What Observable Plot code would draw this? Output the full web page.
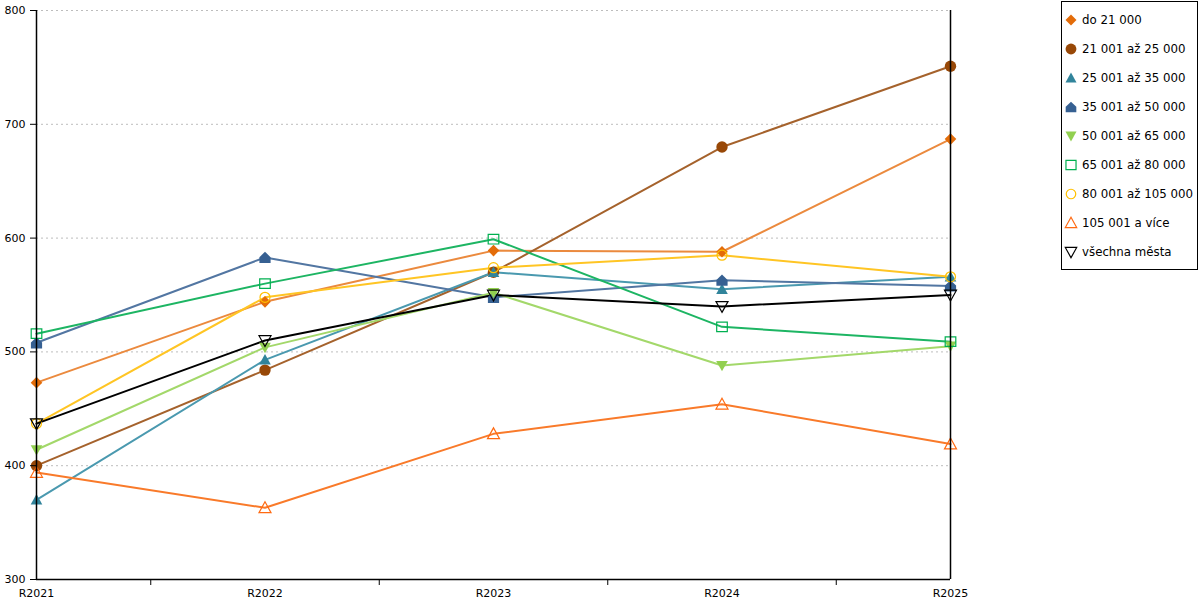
<!DOCTYPE html>
<html>
<head>
<meta charset="utf-8">
<script src="https://cdn.jsdelivr.net/npm/d3@7"></script>
<script src="https://cdn.jsdelivr.net/npm/@observablehq/plot@0.6"></script>
<style>
  html, body { margin: 0; padding: 0; background: #fff; }
  #wrap { position: relative; width: 1200px; height: 600px; font-family: "DejaVu Sans", Verdana, sans-serif; }
  #legend { position: absolute; left: 1061px; top: 1px; width: 135px; height: 267px; border: 1px solid #000; background: #fff; }
  .item { position: absolute; left: 0; height: 16px; display: flex; align-items: center; font-size: 11.8px; color: #000; white-space: nowrap; }
  .item svg { margin-left: 3px; margin-right: 5px; overflow: visible; }
</style>
</head>
<body>
<div id="wrap"><div id="chart"></div><div id="legend"></div></div>
<script>
const years = ["R2021", "R2022", "R2023", "R2024", "R2025"];
const seriesNames = ["do 21 000", "21 001 až 25 000", "25 001 až 35 000", "35 001 až 50 000", "50 001 až 65 000", "65 001 až 80 000", "80 001 až 105 000", "105 001 a více", "všechna města"];
const do21000   = [473, 544, 589, 588, 687];
const s21to25   = [400, 484, 570, 680, 751];
const s25to35   = [370, 493, 570, 555, 566];
const s35to50   = [508, 583, 548, 563, 558];
const s50to65   = [414, 504, 552, 488, 505];
const s65to80   = [516, 560, 599, 522, 509];
const s80to105  = [437, 548, 574, 585, 566];
const s105plus  = [394, 363, 428, 454, 419];
const allCities = [437, 510, 550, 540, 550];
const seriesValues = [do21000, s21to25, s25to35, s35to50, s50to65, s65to80, s80to105, s105plus, allCities];
const yTicks = [300, 400, 500, 600, 700, 800];

const markerColors = ["#E36C09", "#984807", "#31849B", "#366092", "#92D050", "#00B050", "#FFC000", "#FF6A12", "#000000"];
const lineColors   = ["#EB8A3E", "#A5622C", "#4A99AF", "#5276A2", "#A3D86A", "#1DB563", "#FFC524", "#F97A2A", "#000000"];
const filled       = [true, true, true, true, true, false, false, false, false];

// custom symbols: size = PI r^2
const rad = s => Math.sqrt(s / Math.PI);
const diamond = {draw(c, s) { const r = rad(s); c.moveTo(0, -r); c.lineTo(r, 0); c.lineTo(0, r); c.lineTo(-r, 0); c.closePath(); }};
const circle = {draw(c, s) { const r = rad(s); c.moveTo(r, 0); c.arc(0, 0, r, 0, 2 * Math.PI); c.closePath(); }};
const triUp = {draw(c, s) { const r = rad(s); c.moveTo(0, -r); c.lineTo(r, r * 0.8); c.lineTo(-r, r * 0.8); c.closePath(); }};
const triDown = {draw(c, s) { const r = rad(s); c.moveTo(0, r); c.lineTo(r, -r * 0.8); c.lineTo(-r, -r * 0.8); c.closePath(); }};
const house = {draw(c, s) { const r = rad(s); c.moveTo(0, -r); c.lineTo(r, -0.05 * r); c.lineTo(r, r); c.lineTo(-r, r); c.lineTo(-r, -0.05 * r); c.closePath(); }};
const square = {draw(c, s) { const r = rad(s); c.moveTo(-r, -r * 0.9); c.lineTo(r, -r * 0.9); c.lineTo(r, r * 0.9); c.lineTo(-r, r * 0.9); c.closePath(); }};
const symbols = [diamond, circle, triUp, house, triDown, square, circle, triUp, triDown];
const radii = [5.8, 5.7, 5.8, 5.6, 5.8, 5.3, 5, 6, 6];

const marks = [
  Plot.ruleY(yTicks.slice(1), {stroke: "#bdbdbd", strokeDasharray: "2,3", strokeWidth: 1})
];
seriesValues.forEach((vals, k) => {
  marks.push(Plot.line(vals, {x: (d, i) => i, y: d => d, stroke: lineColors[k], strokeWidth: 2}));
});
seriesValues.forEach((vals, k) => {
  marks.push(Plot.dot(vals, {
    x: (d, i) => i, y: d => d, r: radii[k], symbol: symbols[k],
    fill: filled[k] ? markerColors[k] : "none",
    stroke: filled[k] ? "none" : markerColors[k], strokeWidth: 1.2
  }));
});
marks.push(
  Plot.ruleX([0], {stroke: "#000", strokeWidth: 1.5}),
  Plot.ruleX([years.length - 1], {stroke: "#000", strokeWidth: 1.5}),
  Plot.ruleY([300], {stroke: "#000", strokeWidth: 1.5}),
  Plot.axisY({ticks: yTicks, tickSize: 6, tickPadding: 5, tickFormat: d => d, label: null, stroke: "#000"}),
  Plot.axisX({ticks: d3.range(0.5, years.length - 1, 1), tickSize: 6, tickFormat: () => "", label: null}),
  Plot.axisX({ticks: d3.range(years.length), tickSize: 0, tickPadding: 10, tickFormat: i => years[i], label: null})
);

const chart = Plot.plot({
  width: 1200, height: 600,
  marginLeft: 36, marginRight: 250, marginTop: 10, marginBottom: 21,
  style: {fontFamily: "DejaVu Sans, Verdana, sans-serif", fontSize: "11px", color: "#000", background: "#fff", overflow: "visible"},
  x: {domain: [0, years.length - 1]},
  y: {domain: [300, 800]},
  marks
});
document.getElementById("chart").appendChild(chart);

// legend
const legend = document.getElementById("legend");
seriesNames.forEach((name, k) => {
  const item = document.createElement("div");
  item.className = "item";
  item.style.top = (10 + 29 * k) + "px";
  const p = d3.path();
  const rr = radii[k] * 0.95;
  symbols[k].draw(p, Math.PI * rr * rr);
  const svg = `<svg width="12" height="12" viewBox="-6 -6 12 12"><path d="${p.toString()}" fill="${filled[k] ? markerColors[k] : "none"}" stroke="${filled[k] ? "none" : markerColors[k]}" stroke-width="1.2"/></svg>`;
  item.innerHTML = svg + `<span>${name}</span>`;
  legend.appendChild(item);
});
</script>
</body>
</html>
